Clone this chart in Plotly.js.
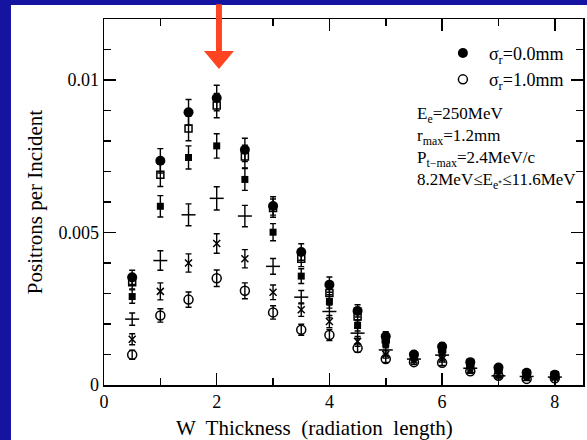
<!DOCTYPE html>
<html>
<head>
<meta charset="utf-8">
<script src="https://cdn.plot.ly/plotly-3.0.1.min.js"></script>
<style>html,body{margin:0;padding:0;background:#1414a0;}#chart{width:587px;height:440px;}</style>
</head>
<body>
<div id="chart"></div>
<script>
// W thickness (radiation lengths)
const thickness = [0.5, 1, 1.5, 2, 2.5, 3, 3.5, 4, 4.5, 5, 5.5, 6, 6.5, 7, 7.5, 8];

// Positrons per incident, (x 1e-3) for each beam size sigma_r
const sig00 = [3.53, 7.35, 8.94, 9.41, 7.71, 5.87, 4.36, 3.29, 2.43, 1.60, 1.00, 1.26, 0.75, 0.57, 0.40, 0.34];
const sig02 = [3.37, 6.89, 8.41, 9.16, 7.49, 5.80, 4.14, 3.02, 2.25, 1.50, 0.95, 1.18, 0.70, 0.52, 0.36, 0.32];
const sig04 = [2.90, 5.86, 7.46, 7.84, 6.74, 5.01, 3.57, 2.74, 1.95, 1.35, 0.90, 1.10, 0.62, 0.47, 0.32, 0.29];
const sig06 = [2.16, 4.08, 5.58, 6.12, 5.54, 3.89, 2.88, 2.41, 1.70, 1.15, 0.85, 0.98, 0.55, 0.30, 0.28, 0.26];
const sig08 = [1.50, 3.07, 4.00, 4.64, 4.14, 3.04, 2.47, 2.08, 1.43, 1.00, 0.82, 0.85, 0.50, 0.35, 0.24, 0.24];
const sig10 = [0.99, 2.28, 2.80, 3.50, 3.09, 2.38, 1.81, 1.64, 1.21, 0.85, 0.75, 0.73, 0.45, 0.30, 0.20, 0.22];

// statistical errors (x 1e-3)
const err00 = [0.23, 0.40, 0.42, 0.42, 0.38, 0.30, 0.27, 0.25, 0.20, 0.15, 0.10, 0.12, 0.10, 0.08, 0.07, 0.07];
const err02 = [0.22, 0.38, 0.40, 0.40, 0.37, 0.30, 0.26, 0.23, 0.19, 0.14, 0.10, 0.12, 0.09, 0.08, 0.07, 0.07];
const err04 = [0.22, 0.35, 0.38, 0.40, 0.36, 0.28, 0.24, 0.22, 0.18, 0.13, 0.10, 0.11, 0.09, 0.08, 0.06, 0.06];
const err06 = [0.20, 0.32, 0.36, 0.38, 0.35, 0.26, 0.22, 0.21, 0.17, 0.13, 0.10, 0.10, 0.08, 0.10, 0.06, 0.06];
const err08 = [0.18, 0.28, 0.30, 0.32, 0.30, 0.24, 0.22, 0.20, 0.16, 0.12, 0.09, 0.10, 0.08, 0.07, 0.06, 0.06];
const err10 = [0.15, 0.22, 0.25, 0.27, 0.26, 0.22, 0.18, 0.18, 0.14, 0.11, 0.08, 0.09, 0.07, 0.06, 0.05, 0.05];

const yTickVals = [0, 0.005, 0.01];
const yTickText = ['0', '0.005', '0.01'];
const xTickVals = [0, 2, 4, 6, 8];
const xTickText = ['0', '2', '4', '6', '8'];

const legendNames = ['σ<sub>r</sub>=0.0mm', 'σ<sub>r</sub>=0.2mm', 'σ<sub>r</sub>=0.4mm', 'σ<sub>r</sub>=0.6mm', 'σ<sub>r</sub>=0.8mm', 'σ<sub>r</sub>=1.0mm'];
const infoLines = ['E<sub>e</sub>=250MeV', 'r<sub>max</sub>=1.2mm', 'P<sub>t−max</sub>=2.4MeV/c', '8.2MeV≤E<sub>e⁺</sub>≤11.6MeV'];
const arrowAt = 2.04;

const scale = v => v * 1e-3;
const FONT = 'Liberation Serif, Times New Roman, serif';

function series(vals, errs, name, marker, showlegend) {
  return {
    type: 'scatter', mode: 'markers', x: thickness, y: vals.map(scale), name: name,
    showlegend: showlegend, marker: marker,
    error_y: {type: 'data', array: errs.map(scale), visible: true, color: 'black', thickness: 1.4, width: 3}
  };
}

const traces = [
  series(sig10, err10, legendNames[5], {symbol: 'circle-open', size: 9, color: 'black', line: {width: 1.5, color: 'black'}}, false),
  series(sig08, err08, legendNames[4], {symbol: 'x-thin', size: 7, color: 'black', line: {width: 1.5, color: 'black'}}, false),
  series(sig06, err06, legendNames[3], {symbol: 'line-ew', size: 10, color: 'black', line: {width: 1.5, color: 'black'}}, false),
  series(sig04, err04, legendNames[2], {symbol: 'square', size: 7, color: 'black'}, false),
  series(sig02, err02, legendNames[1], {symbol: 'square-open', size: 7, color: 'black', line: {width: 1.5, color: 'black'}}, false),
  series(sig00, err00, legendNames[0], {symbol: 'circle', size: 10, color: 'black'}, true),
  // legend-only entry for the open circle (shown second)
  {type: 'scatter', mode: 'markers', x: [null], y: [null], name: legendNames[5], showlegend: true,
   marker: {symbol: 'circle-open', size: 9, color: 'black', line: {width: 1.5, color: 'black'}}}
];

const axisCommon = {
  showline: true, linecolor: 'black', linewidth: 1.5, mirror: 'ticks',
  ticks: 'inside', ticklen: 12, tickwidth: 1.5, tickcolor: 'black',
  showgrid: false, zeroline: false,
  tickfont: {family: FONT, size: 18, color: 'black'}
};

const annotations = infoLines.map((t, i) => ({
  text: t, xref: 'paper', yref: 'paper', x: 0.65, y: 0.738 - i * 0.060,
  xanchor: 'left', yanchor: 'middle', showarrow: false,
  font: {family: FONT, size: 17, color: 'black'}
}));
annotations.push({
  text: 'W  Thickness  (radiation  length)', xref: 'paper', yref: 'paper', x: 0.44, y: -0.118,
  xanchor: 'center', yanchor: 'middle', showarrow: false,
  font: {family: FONT, size: 21, color: 'black'}
});

const hw = 0.053, hh = 0.266;
const layout = {
  width: 587, height: 440,
  margin: {l: 104, r: 4, t: 19, b: 55},
  paper_bgcolor: '#1414a0', plot_bgcolor: 'white',
  showlegend: true,
  legend: {x: 0.695, y: 0.957, xanchor: 'left', yanchor: 'top', bgcolor: 'rgba(0,0,0,0)',
           font: {family: FONT, size: 18, color: 'black'}, tracegroupgap: 0, itemwidth: 42},
  xaxis: Object.assign({}, axisCommon, {
    range: [0, 8.5], tickvals: xTickVals, ticktext: xTickText,
    minor: {dtick: 1, ticks: 'inside', ticklen: 7, tickwidth: 1.5, tickcolor: 'black', showgrid: false}
  }),
  yaxis: Object.assign({}, axisCommon, {
    range: [0, 0.012], tickvals: yTickVals, ticktext: yTickText,
    minor: {dtick: 0.001, tick0: 0, ticks: 'inside', ticklen: 7, tickwidth: 1.5, tickcolor: 'black', showgrid: false},
    title: {text: 'Positrons per Incident', font: {family: FONT, size: 21, color: 'black'}, standoff: 10}
  }),
  annotations: annotations,
  shapes: [
    {type: 'rect', xref: 'paper', yref: 'paper', x0: -0.1942, x1: 1.05, y0: -0.3, y1: 1.0383,
     fillcolor: 'white', line: {width: 0}, layer: 'below'},
    {type: 'path', xref: 'x', yref: 'paper', layer: 'above', fillcolor: '#ff4422', line: {width: 0},
     path: `M ${arrowAt - hw} 1.04 L ${arrowAt + hw} 1.04 L ${arrowAt + hw} 0.9126 L ${arrowAt + hh} 0.9126 ` +
           `L ${arrowAt} 0.8634 L ${arrowAt - hh} 0.9126 L ${arrowAt - hw} 0.9126 Z`}
  ]
};

Plotly.newPlot('chart', traces, layout, {displayModeBar: false, staticPlot: true});
</script>
</body>
</html>
